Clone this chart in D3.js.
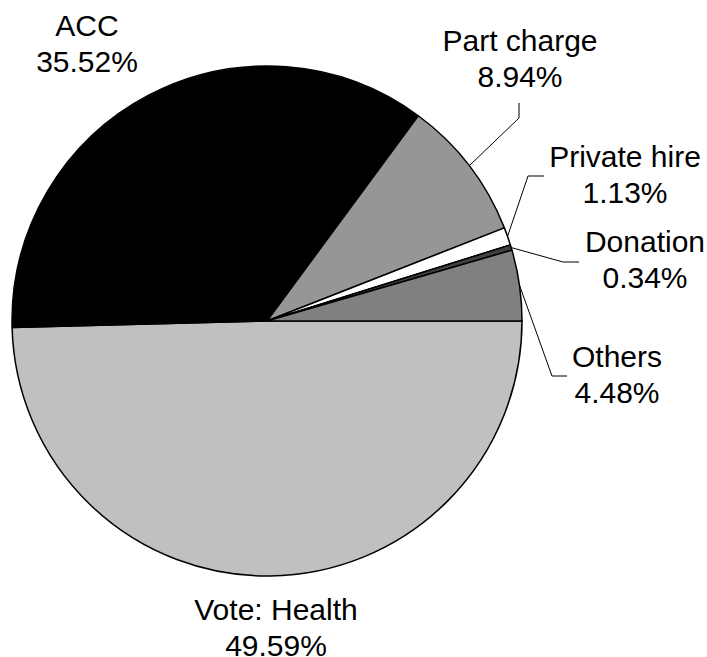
<!DOCTYPE html>
<html><head><meta charset="utf-8">
<script src="https://cdn.jsdelivr.net/npm/d3@7"></script>
<style>body{margin:0;background:#fff}svg{display:block}</style>
</head><body>
<script>
const categories = ["Vote: Health","ACC","Part charge","Private hire","Donation","Others"];
const values = [49.59,35.52,8.94,1.13,0.34,4.48];
const colors = ["#c0c0c0","#000000","#969696","#ffffff","#404040","#808080"];

const W=707,H=657,cx=267,cy=321,R=255;
const svg=d3.select("body").append("svg").attr("width",W).attr("height",H);
const g=svg.append("g").attr("transform",`translate(${cx},${cy})`);
const data=categories.map((c,i)=>({cat:c,val:values[i],col:colors[i]}));
const pie=d3.pie().value(d=>d.val).sort(null).startAngle(Math.PI/2).endAngle(Math.PI/2+2*Math.PI);
const arcs=pie(data);
const arc=d3.arc().innerRadius(0).outerRadius(R);
g.selectAll("path.s").data(arcs).join("path").attr("class","s")
 .attr("d",arc).attr("fill",d=>d.data.col).attr("stroke","#000").attr("stroke-width",1.5).attr("stroke-linejoin","round");

// label layout (positions in page coords)
const layout={
 "Vote: Health":{x:276,y:620,line:null},
 "ACC":{x:87,y:36,line:null},
 "Part charge":{x:520,y:51,line:[[519,118],[519,103]]},
 "Private hire":{x:625,y:167,line:[[528,176],[544,176]]},
 "Donation":{x:645,y:252,line:[[563,262],[579,262]]},
 "Others":{x:617,y:367,line:[[552,376],[567,376]]}
};
arcs.forEach(a=>{
 const L=layout[a.data.cat];
 const t=svg.append("text").attr("x",L.x).attr("y",L.y).attr("text-anchor","middle")
  .attr("font-family","Liberation Sans, Arial, sans-serif").attr("font-size",30).attr("fill","#000");
 t.append("tspan").attr("x",L.x).text(a.data.cat);
 t.append("tspan").attr("x",L.x).attr("dy",36).text(d3.format(".2f")(a.data.val)+"%");
 if(L.line){
  const m=(a.startAngle+a.endAngle)/2;
  const p0=[cx+R*Math.sin(m),cy-R*Math.cos(m)];
  svg.append("path").attr("d",d3.line()([p0,...L.line])).attr("fill","none").attr("stroke","#000").attr("stroke-width",1);
 }
});
</script>
</body></html>
